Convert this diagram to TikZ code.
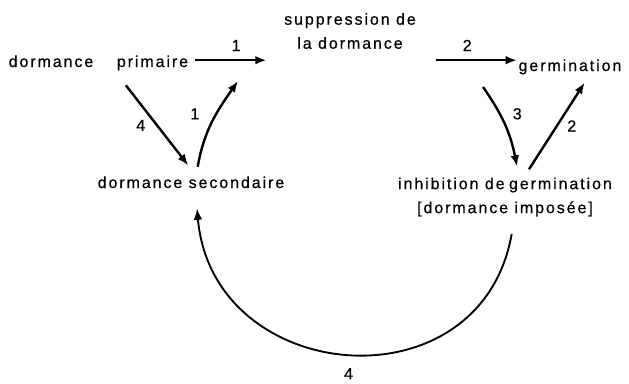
\documentclass[tikz,border=0pt]{standalone}
\usepackage{fontspec}
\setmainfont[LetterSpace=12,FakeBold=0.5]{Liberation Sans}
\usetikzlibrary{positioning,arrows.meta}
\tikzset{
  stage/.style={font=\fontsize{12}{18}\selectfont, inner sep=1pt, align=center},
  num/.style={font=\fontsize{12}{14}\selectfont, inner sep=1pt},
  flux/.style={-{Latex[length=8.5pt,width=6.5pt]}, line width=1.8pt},
  cycle/.style={flux, line width=1.4pt}
}

\begin{document}
\begin{tikzpicture}[x=0.75pt, y=0.75pt]
  \useasboundingbox (0,0) rectangle (629,-383);

  \node[stage, anchor=base] (dorm) at (51,-67) {dormance};
  \node[stage, anchor=base] (prim) at (152.5,-67) {primaire};
  \node[stage] (supp) at (350,-31) {suppression de\\la dormance};
  \node[stage, anchor=base] (germ) at (570,-71) {germination};
  \node[stage, anchor=base] (sec) at (191,-188) {dormance secondaire};
  \node[stage] (inhib) at (505,-197) {inhibition de\hspace{-0.12em} germination\\{[}dormance imposée{]}};

  \coordinate (rise) at (238,-81);
  \coordinate (lift) at (483,-87);

  % voie 1
  \draw[flux, shorten <=4pt, shorten >=12pt] ([yshift=2pt]prim.east) -- ([yshift=2pt]prim.east -| supp.west)
    node[num, midway, above=5pt] {1};
  \draw[flux] ([xshift=5pt,yshift=6pt]sec.north) to[out=80,in=-125]
    node[num, pos=0.6, left=11pt] {1} (rise);
  % voie 2
  \draw[flux, shorten <=14pt] ([yshift=2pt]supp.east |- prim.east) -- ([yshift=2pt]germ.west |- prim.east)
    node[num, midway, above=5pt] {2};
  \draw[flux] ([xshift=18pt,yshift=5pt]inhib.north) -- ([xshift=11pt,yshift=-5pt]germ.south)
    node[num, midway, right=6pt] {2};
  % voie 3
  \draw[flux] (lift) to[out=-55,in=101] node[num, pos=0.35, right=8pt] {3}
    ([xshift=9pt,yshift=7pt]inhib.north);
  % voie 4
  \draw[flux] ([xshift=-20pt,yshift=-10pt]prim.south) -- ([xshift=-2pt,yshift=7pt]sec.north)
    node[num, pos=0.5, left=7pt] {4};
  \draw[cycle] ([xshift=5pt,yshift=-12pt]inhib.south) to[out=-100,in=-85,looseness=1.45]
    node[num, midway, below=9pt] {4} ([xshift=4.5pt,yshift=-14pt]sec.south);
\end{tikzpicture}
\end{document}
